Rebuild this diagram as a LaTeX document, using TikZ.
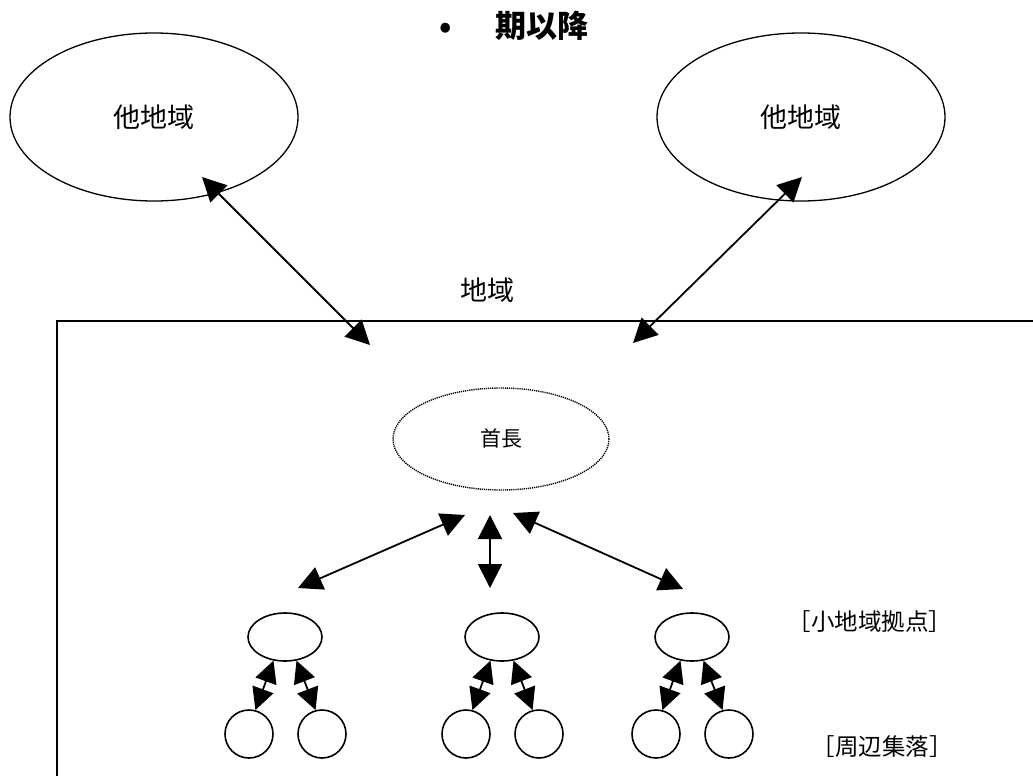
\documentclass[tikz,border=0pt]{standalone}
\usepackage{fontspec}
\setmainfont{Noto Sans CJK JP}
\usepackage{tikz}
\usetikzlibrary{arrows.meta,shapes.geometric}

\begin{document}
\begin{tikzpicture}[x=1pt,y=-1pt,
    region/.style={draw,ellipse,line width=1.3pt,minimum width=288pt,minimum height=168pt,
      font=\fontsize{27pt}{30pt}\selectfont},
    chief/.style={draw,ellipse,line width=1.4pt,dash pattern=on 1.2pt off 0.9pt,
      minimum width=216pt,minimum height=102pt,font=\fontsize{21pt}{24pt}\selectfont},
    hub/.style={draw,ellipse,line width=1.6pt,minimum width=74pt,minimum height=48pt,inner sep=0pt},
    vil/.style={draw,circle,line width=1.6pt,minimum size=48pt,inner sep=0pt},
    tag/.style={font=\fontsize{23.5pt}{26pt}\selectfont},
    link/.style={line width=1.8pt,{Triangle[length=24pt,width=24pt]}-{Triangle[length=24pt,width=24pt]}},
    pair/.style={line width=1.8pt,{Triangle[length=22pt,width=22pt]}-{Triangle[length=22pt,width=22pt]}}]
  \useasboundingbox (0,0) rectangle (1033,776);

  \node[anchor=west,font=\bfseries\fontsize{31pt}{34pt}\selectfont] (title) at (436,26)
    {•\hspace{1.4em}期以降};

  \node[region] (otherL) at (154,117) {他地域\hspace{22pt}};
  \node[region] (otherR) at (801,117) {他地域\hspace{18pt}};

  \node[font=\fontsize{27pt}{30pt}\selectfont] (area) at (487,290) {地域};
  \draw[line width=1.8pt] (1040,321) -- (57,321) -- (57,790);

  \coordinate (inL) at (370,345);
  \coordinate (inR) at (633,343);
  \coordinate (outL) at (202,177);
  \coordinate (outR) at (802,177);
  \draw[link] (outL) -- (inL);
  \draw[link] (outR) -- (inR);

  \node[chief] (head) at (501,439) {首長};

  % arrows between the chief and the local centres
  \coordinate (hL1) at (465,515);
  \coordinate (hL2) at (298,588);
  \coordinate (hM1) at (490,515);
  \coordinate (hM2) at (490,588);
  \coordinate (hR1) at (513,513);
  \coordinate (hR2) at (683,589);
  \draw[link] (hL2) -- (hL1);
  \draw[link] (hM2) -- (hM1);
  \draw[link] (hR2) -- (hR1);

  \foreach \cx/\nm in {285/a,502/b,692/c}{
    \node[hub] (hub\nm) at (\cx,637) {};
    \node[vil] (vilL\nm) at (\cx-36,734) {};
    \node[vil] (vilR\nm) at (\cx+37,734) {};
    \draw[pair] (hub\nm.-116) -- (vilL\nm.75);
    \draw[pair] (hub\nm.-64) -- (vilR\nm.105);
  }

  \node[tag] (hubtag) at (870,622) {［小地域拠点］};
  \node[tag] (viltag) at (882,747) {［周辺集落］};
\end{tikzpicture}
\end{document}
